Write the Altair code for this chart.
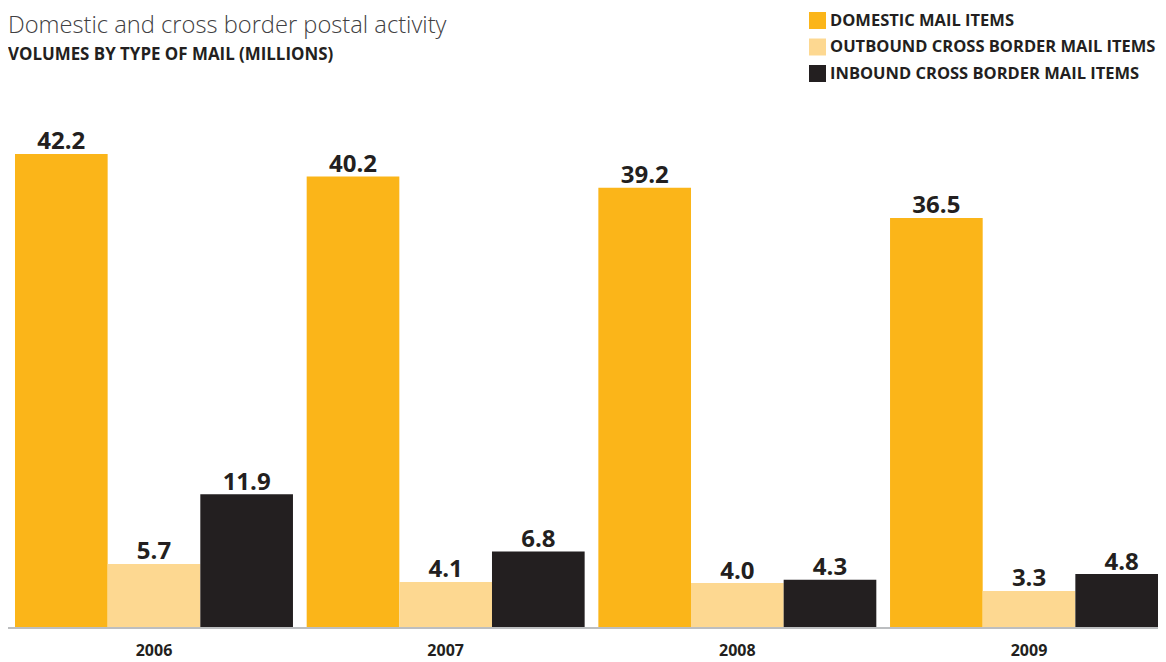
import altair as alt
import pandas as pd

years = ["2006", "2007", "2008", "2009"]
series = ["DOMESTIC MAIL ITEMS", "OUTBOUND CROSS BORDER MAIL ITEMS", "INBOUND CROSS BORDER MAIL ITEMS"]
domestic = [42.2, 40.2, 39.2, 36.5]
outbound = [5.7, 4.1, 4.0, 3.3]
inbound = [11.9, 6.8, 4.3, 4.8]
colors = ["#FBB519", "#FDD891", "#231F20"]

rows = []
for i, yr in enumerate(years):
    for s, vals in zip(series, [domestic, outbound, inbound]):
        rows.append({"year": yr, "series": s, "value": vals[i], "label": f"{vals[i]:.1f}"})
df = pd.DataFrame(rows)

FONT = "Open Sans"
DARK = "#231F20"
YMAX = 47.0

x = alt.X(
    "year:N", sort=years,
    scale=alt.Scale(range=[7, 1160], paddingInner=0.047, paddingOuter=0),
    axis=alt.Axis(title=None, labelAngle=0, ticks=False, labelPadding=14,
                  labelFont=FONT, labelFontWeight="bold", labelFontSize=16,
                  labelColor=DARK, domain=False, grid=False),
)
xoff = alt.XOffset("series:N", sort=series, scale=alt.Scale(paddingInner=0, paddingOuter=0))
y = alt.Y("value:Q", scale=alt.Scale(domain=[0, YMAX]), axis=None)

color = alt.Color(
    "series:N", sort=series,
    scale=alt.Scale(domain=series, range=colors),
    legend=alt.Legend(title=None, orient="none", legendX=801, legendY=-88,
                      symbolType="square", symbolSize=289, symbolStrokeWidth=0,
                      symbolOpacity=1, labelFont=FONT, labelFontWeight="bold",
                      labelFontSize=16.5, labelColor=DARK, labelOffset=4,
                      rowPadding=9.5, labelLimit=0),
)

base = alt.Chart(df)
bars = base.mark_bar(strokeWidth=0).encode(x=x, xOffset=xoff, y=y, color=color)
labels = base.mark_text(font=FONT, fontWeight="bold", fontSize=24,
                        baseline="alphabetic", dy=-4.5, color=DARK).encode(
    x=x, xOffset=xoff, y=y, text="label:N")
baseline = alt.Chart(pd.DataFrame({"v": [0]})).mark_rule(
    color="#BCBEC0", strokeWidth=2).encode(y=alt.Y("v:Q", scale=alt.Scale(domain=[0, YMAX])))

chart = alt.layer(bars, labels, baseline).properties(
    width=1150, height=528,
    background="white",
    autosize=alt.AutoSizeParams(type="none"),
    padding={"left": 0, "top": 92, "right": 0, "bottom": 34},
    title=alt.Title("Domestic and cross border postal activity",
                    subtitle="VOLUMES BY TYPE OF MAIL (MILLIONS)",
                    anchor="start", frame="group", font=FONT, fontWeight=300,
                    fontSize=23.7, color="#414042", subtitleFont=FONT,
                    subtitleFontWeight="bold", subtitleFontSize=16.9,
                    subtitleColor=DARK, subtitlePadding=9, offset=-51),
).configure_view(stroke=None)

chart.save("out.html", embed_options={"renderer": "svg", "actions": False})
